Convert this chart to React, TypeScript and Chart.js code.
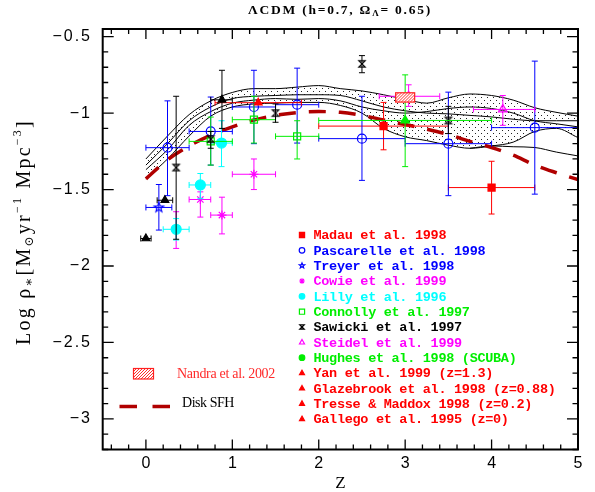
import React, { useEffect, useRef } from 'react';
import { Chart, registerables } from 'chart.js';

Chart.register(...registerables);

type Pt = [number, number, number | null, number | null, number | null, number | null];

// ---- model curves on a common redshift grid ----
const Z_GRID = [0, 0.25, 0.5, 0.75, 1, 1.25, 1.5, 1.75, 2, 2.25, 2.5, 2.75, 3, 3.25, 3.5, 3.75, 4, 4.25, 4.5, 4.75, 5];
const BAND1_UPPER = [-1.30, -1.15, -1.01, -0.92, -0.865, -0.84, -0.84, -0.83, -0.82, -0.84, -0.855, -0.88, -0.91, -0.935, -0.90, -0.875, -0.885, -0.915, -0.965, -0.995, -1.02];
const BAND1_LOWER = [-1.34, -1.20, -1.05, -0.96, -0.905, -0.89, -0.885, -0.88, -0.88, -0.885, -0.92, -0.96, -0.985, -1.0, -1.005, -1.015, -1.025, -1.04, -1.05, -1.05, -1.05];
const BAND2_UPPER = [-1.37, -1.24, -1.08, -0.99, -0.935, -0.915, -0.905, -0.91, -0.905, -0.92, -0.96, -0.985, -1.0, -0.99, -0.97, -0.96, -0.97, -1.0, -1.05, -1.07, -1.09];
const BAND2_LOWER = [-1.43, -1.30, -1.15, -1.02, -0.96, -0.94, -0.935, -0.93, -0.93, -0.95, -1.0, -1.10, -1.155, -1.18, -1.21, -1.23, -1.215, -1.19, -1.12, -1.10, -1.16];
const LOW_Z = [3.75, 4, 4.25, 4.5, 4.75, 5];
const LOW_CURVE = [-1.23, -1.215, -1.22, -1.225, -1.255, -1.28];
const DISK_SFH = [-1.43, -1.305, -1.215, -1.145, -1.09, -1.045, -1.015, -0.997, -0.99, -0.995, -1.015, -1.045, -1.075, -1.105, -1.14, -1.185, -1.225, -1.275, -1.34, -1.39, -1.435];

// ---- observations: [z, logSFRD, zLow, zHigh, logLow, logHigh] ----
const MADAU: Pt[] = [[2.75, -1.085, 2.0, 3.5, -1.24, -0.93], [4.0, -1.487, 3.5, 4.5, -1.66, -1.315]];
const PASCARELLE: Pt[] = [
  [0.25, -1.226, 0, 0.5, -1.54, -0.92],
  [0.75, -1.12, 0.5, 1.0, -1.34, -0.895],
  [1.25, -0.96, 1.0, 1.5, -1.2, -0.72],
  [1.75, -0.945, 1.5, 2.0, -1.196, -0.706],
  [2.5, -1.167, 2.0, 3.0, -1.44, -0.89],
  [3.5, -1.2, 3.0, 4.0, -1.54, -0.863],
  [4.5, -1.095, 4.0, 5.0, -1.53, -0.66],
];
const TREYER: Pt[] = [[0.15, -1.617, 0, 0.3, -1.765, -1.467]];
const COWIE: Pt[] = [
  [0.35, -1.76, null, null, -1.885, -1.645],
  [0.63, -1.565, 0.5, 0.75, -1.68, -1.515],
  [0.88, -1.667, 0.75, 1.0, -1.79, -1.55],
  [1.25, -1.4, 1.0, 1.5, -1.5, -1.3],
];
const LILLY: Pt[] = [
  [0.35, -1.76, 0.2, 0.5, -1.83, -1.69],
  [0.63, -1.47, 0.5, 0.75, -1.56, -1.395],
  [0.875, -1.196, 0.75, 1.0, -1.35, -1.05],
];
const CONNOLLY: Pt[] = [
  [0.75, -1.185, 0.5, 1.0, -1.34, -1.026],
  [1.25, -1.043, 1.0, 1.5, -1.196, -0.89],
  [1.75, -1.152, 1.5, 2.0, -1.3, -1.05],
];
const SAWICKI: Pt[] = [
  [0.35, -1.356, null, null, -1.825, -0.89],
  [0.75, -1.17, null, null, -1.23, -1.12],
  [1.5, -1.0, null, null, -1.06, -0.94],
  [2.5, -0.678, null, null, -0.736, -0.624],
  [3.5, -1.048, null, null, -1.134, -0.956],
];
const STEIDEL: Pt[] = [[3.04, -0.89, 2.7, 3.4, -0.956, -0.815], [4.13, -0.976, 3.79, 4.5, -1.08, -0.885]];
const HUGHES: Pt[] = [[3.0, -1.048, 2.0, 4.0, -1.35, -0.75]];
const YAN: Pt[] = [[1.3, -0.932, 0.8, 1.8, null, null]];
const GLAZEBROOK: Pt[] = [[0.88, -0.913, 0.75, 1.0, -1.1, -0.72]];
const TRESSE: Pt[] = [[0.22, -1.57, 0.13, 0.31, null, null]];
const GALLEGO: Pt[] = [[0, -1.82, -0.06, 0.06, null, null]];
// Nandra et al. 2002 box: [zLow, zHigh, logLow, logHigh]
const NANDRA = [2.89, 3.11, -0.928, -0.867];

const X_TICKS = [0, 1, 2, 3, 4, 5];
const Y_TICKS = [-0.5, -1, -1.5, -2, -2.5, -3];

const RED = '#ff0000', BLUE = '#0000ff', MAG = '#ff00ff', CYAN = '#00ffff', GREEN = '#00ee00', BLACK = '#000000';
const DISK_COLOR = '#b00000';

const SERIES = [
  { label: 'Madau et al. 1998', data: MADAU, color: RED, lcolor: RED, style: 'rect', r: 5, filled: true, lstyle: 'rect' },
  { label: 'Pascarelle et al. 1998', data: PASCARELLE, color: BLUE, lcolor: BLUE, style: 'circle', r: 4.5, filled: false, lstyle: 'circle' },
  { label: 'Treyer et al. 1998', data: TREYER, color: BLUE, lcolor: BLUE, style: 'star5', r: 5, filled: false, lstyle: 'star5' },
  { label: 'Cowie et al. 1999', data: COWIE, color: MAG, lcolor: MAG, style: 'star', r: 4.5, filled: false, lstyle: 'star' },
  { label: 'Lilly et al. 1996', data: LILLY, color: CYAN, lcolor: CYAN, style: 'circle', r: 5, filled: true, lstyle: 'circle' },
  { label: 'Connolly et al. 1997', data: CONNOLLY, color: GREEN, lcolor: GREEN, style: 'rect', r: 5, filled: false, lstyle: 'rect' },
  { label: 'Sawicki et al. 1997', data: SAWICKI, color: BLACK, lcolor: BLACK, style: 'hourglass', r: 4, filled: false, lstyle: 'hourglass' },
  { label: 'Steidel et al. 1999', data: STEIDEL, color: MAG, lcolor: MAG, style: 'triangle', r: 5, filled: false, lstyle: 'triangle' },
  { label: 'Hughes et al. 1998 (SCUBA)', data: HUGHES, color: GREEN, lcolor: GREEN, style: 'triangle', r: 5, filled: true, lstyle: 'circle' },
  { label: 'Yan et al. 1999 (z=1.3)', data: YAN, color: RED, lcolor: RED, style: 'triangle', r: 4.5, filled: true, lstyle: 'triangle' },
  { label: 'Glazebrook et al. 1998 (z=0.88)', data: GLAZEBROOK, color: BLACK, lcolor: RED, style: 'triangle', r: 4.5, filled: true, lstyle: 'triangle' },
  { label: 'Tresse & Maddox 1998 (z=0.2)', data: TRESSE, color: BLACK, lcolor: RED, style: 'triangle', r: 4.5, filled: true, lstyle: 'triangle' },
  { label: 'Gallego et al. 1995 (z=0)', data: GALLEGO, color: BLACK, lcolor: RED, style: 'triangle', r: 4.5, filled: true, lstyle: 'triangle' },
];

function drawMarker(g: CanvasRenderingContext2D, style: string, x: number, y: number, r: number, color: string, filled: boolean) {
  g.save();
  g.strokeStyle = color;
  g.fillStyle = color;
  g.lineWidth = 1.2;
  g.beginPath();
  if (style === 'rect') {
    const s = r * 0.72;
    g.rect(x - s, y - s, 2 * s, 2 * s);
  } else if (style === 'circle') {
    g.arc(x, y, r, 0, Math.PI * 2);
  } else if (style === 'triangle') {
    g.moveTo(x, y - r);
    g.lineTo(x + r * 0.9, y + r * 0.6);
    g.lineTo(x - r * 0.9, y + r * 0.6);
    g.closePath();
  } else if (style === 'star') {
    for (let i = 0; i < 4; i++) {
      const a = (i * Math.PI) / 4;
      g.moveTo(x - Math.cos(a) * r, y - Math.sin(a) * r);
      g.lineTo(x + Math.cos(a) * r, y + Math.sin(a) * r);
    }
  } else if (style === 'star5') {
    for (let i = 0; i < 10; i++) {
      const a = -Math.PI / 2 + (i * Math.PI) / 5;
      const rr = i % 2 ? r * 0.42 : r;
      const px = x + Math.cos(a) * rr, py = y + Math.sin(a) * rr;
      if (i === 0) g.moveTo(px, py); else g.lineTo(px, py);
    }
    g.closePath();
  } else if (style === 'hourglass') {
    const s = r * 0.8;
    g.moveTo(x - s, y - s);
    g.lineTo(x + s, y - s);
    g.lineTo(x - s, y + s);
    g.lineTo(x + s, y + s);
    g.closePath();
  }
  if (filled) g.fill();
  g.stroke();
  g.restore();
}

function markerCanvas(style: string, r: number, color: string, filled: boolean) {
  const size = Math.ceil(r * 2 + 4);
  const c = document.createElement('canvas');
  c.width = size;
  c.height = size;
  const g = c.getContext('2d')!;
  drawMarker(g, style, size / 2, size / 2, r, color, filled);
  return c;
}

function dotPattern(g: CanvasRenderingContext2D) {
  const c = document.createElement('canvas');
  c.width = 6;
  c.height = 6;
  const p = c.getContext('2d')!;
  p.fillStyle = '#222';
  p.fillRect(1, 1, 1, 1);
  p.fillRect(4, 4, 1, 1);
  return g.createPattern(c, 'repeat')!;
}

type Seg = { t: string; size: number; dy: number };

function drawRich(g: CanvasRenderingContext2D, segs: Seg[], font: (s: number) => string, x: number, y: number, targetW: number | null, align: 'center' | 'left') {
  g.letterSpacing = '0px';
  let w0 = 0, n = 0;
  const ws = segs.map((s) => {
    g.font = font(s.size);
    const w = g.measureText(s.t).width;
    w0 += w;
    n += [...s.t].length;
    return w;
  });
  const sp = targetW != null ? (targetW - w0) / n : 0;
  const total = w0 + sp * n;
  let cx = align === 'center' ? x - total / 2 : x;
  g.textAlign = 'left';
  segs.forEach((s, i) => {
    g.font = font(s.size);
    g.letterSpacing = sp + 'px';
    g.fillText(s.t, cx, y + s.dy);
    cx += ws[i] + sp * [...s.t].length;
  });
  g.letterSpacing = '0px';
}

function hatchBox(g: CanvasRenderingContext2D, x0: number, y0: number, x1: number, y1: number) {
  const l = Math.min(x0, x1), r = Math.max(x0, x1), t = Math.min(y0, y1), b = Math.max(y0, y1);
  g.save();
  g.fillStyle = '#ffffff';
  g.fillRect(l, t, r - l, b - t);
  g.beginPath();
  g.rect(l, t, r - l, b - t);
  g.clip();
  g.strokeStyle = '#ff3030';
  g.lineWidth = 1;
  g.beginPath();
  for (let k = l - (b - t); k < r; k += 3) {
    g.moveTo(k, b);
    g.lineTo(k + (b - t), t);
  }
  g.stroke();
  g.restore();
  g.save();
  g.strokeStyle = '#ff2020';
  g.lineWidth = 1.2;
  g.strokeRect(l, t, r - l, b - t);
  g.restore();
}

const errorBarPlugin = {
  id: 'errorBars',
  beforeDatasetDraw(chart: any, args: any) {
    const ds = chart.data.datasets[args.index];
    if (!ds.errColor) return;
    const { ctx } = chart;
    const xs = chart.scales.x, ys = chart.scales.y;
    const cap = 3;
    ctx.save();
    ctx.strokeStyle = ds.errColor;
    ctx.lineWidth = 1;
    ctx.beginPath();
    for (const p of ds.data) {
      const px = xs.getPixelForValue(p.x), py = ys.getPixelForValue(p.y);
      if (p.xl != null && p.xh != null) {
        const a = xs.getPixelForValue(p.xl), b = xs.getPixelForValue(p.xh);
        ctx.moveTo(a, py); ctx.lineTo(b, py);
        ctx.moveTo(a, py - cap); ctx.lineTo(a, py + cap);
        ctx.moveTo(b, py - cap); ctx.lineTo(b, py + cap);
      }
      if (p.yl != null && p.yh != null) {
        const a = ys.getPixelForValue(p.yl), b = ys.getPixelForValue(p.yh);
        ctx.moveTo(px, a); ctx.lineTo(px, b);
        ctx.moveTo(px - cap, a); ctx.lineTo(px + cap, a);
        ctx.moveTo(px - cap, b); ctx.lineTo(px + cap, b);
      }
    }
    ctx.stroke();
    ctx.restore();
  },
};

const decorPlugin = {
  id: 'decor',
  afterDatasetsDraw(chart: any) {
    const { ctx } = chart;
    const xs = chart.scales.x, ys = chart.scales.y;
    hatchBox(ctx, xs.getPixelForValue(NANDRA[0]), ys.getPixelForValue(NANDRA[2]), xs.getPixelForValue(NANDRA[1]), ys.getPixelForValue(NANDRA[3]));
  },
  afterDraw(chart: any) {
    const { ctx, chartArea } = chart;
    const { left, right, top, bottom } = chartArea;
    const xs = chart.scales.x, ys = chart.scales.y;
    ctx.save();
    // frame
    ctx.strokeStyle = '#000';
    ctx.lineWidth = 2;
    ctx.strokeRect(left, top, right - left, bottom - top);
    // ticks
    ctx.lineWidth = 1.3;
    ctx.beginPath();
    for (let i = -2; i <= 25; i++) {
      const z = i * 0.2;
      if (z < -0.5 || z > 5.0001) continue;
      const major = Math.abs(z - Math.round(z)) < 1e-6;
      const L = major ? 10 : 5;
      const px = xs.getPixelForValue(z);
      ctx.moveTo(px, bottom); ctx.lineTo(px, bottom - L);
      ctx.moveTo(px, top); ctx.lineTo(px, top + L);
    }
    for (let i = 5; i <= 32; i++) {
      const v = -i * 0.1;
      const major = Math.abs(v * 2 - Math.round(v * 2)) < 1e-6;
      const L = major ? 11 : 5.5;
      const py = ys.getPixelForValue(v);
      ctx.moveTo(left, py); ctx.lineTo(left + L, py);
      ctx.moveTo(right, py); ctx.lineTo(right - L, py);
    }
    ctx.stroke();

    // tick labels
    ctx.fillStyle = '#000';
    ctx.textBaseline = 'middle';
    ctx.font = '16px "Liberation Sans"';
    ctx.letterSpacing = '2px';
    ctx.textAlign = 'right';
    for (const v of Y_TICKS) {
      const s = (v < 0 ? '\u2212' : '') + Math.abs(v);
      ctx.fillText(s, 92, ys.getPixelForValue(v));
    }
    ctx.letterSpacing = '0px';
    ctx.textAlign = 'center';
    for (const z of X_TICKS) {
      ctx.fillText(String(z), xs.getPixelForValue(z), 464);
    }

    // axis titles
    ctx.font = '17px "Liberation Serif"';
    ctx.fillText('Z', (left + right) / 2, 484);

    const serif = (s: number) => `${s}px "Liberation Serif", "DejaVu Serif"`;
    ctx.save();
    ctx.translate(25, 232);
    ctx.rotate(-Math.PI / 2);
    ctx.textBaseline = 'middle';
    drawRich(ctx, [
      { t: 'Log \u03c1', size: 20, dy: 0 },
      { t: '\u2217', size: 13, dy: 5 },
      { t: '[M', size: 20, dy: 0 },
      { t: '\u2299', size: 12, dy: 5 },
      { t: 'yr', size: 20, dy: 0 },
      { t: '\u22121', size: 12, dy: -7 },
      { t: ' Mpc', size: 20, dy: 0 },
      { t: '\u22123', size: 12, dy: -7 },
      { t: ']', size: 20, dy: 0 },
    ], serif, 0, 0, 226, 'center');
    ctx.restore();

    // title
    ctx.textBaseline = 'middle';
    const bserif = (s: number) => `bold ${s}px "Liberation Serif", "DejaVu Serif"`;
    drawRich(ctx, [
      { t: '\u039bCDM (h=0.7, \u03a9', size: 13.5, dy: 0 },
      { t: '\u039b', size: 9, dy: 3 },
      { t: '= 0.65)', size: 13.5, dy: 0 },
    ], bserif, 340, 11, 184, 'center');

    // legend of observations
    const lx = 302, tx = 313.5, ly0 = 235, ldy = 15.33;
    const lfont = 'bold 13.5px "Liberation Mono"';
    ctx.font = lfont;
    ctx.letterSpacing = '0px';
    const refW = ctx.measureText('Glazebrook et al. 1998 (z=0.88)').width;
    const sp = (242 - refW) / 31;
    SERIES.forEach((s, i) => {
      const y = ly0 + i * ldy;
      drawMarker(ctx, s.lstyle, lx, y, s.lstyle === 'rect' ? 3.6 : 2.8, s.lcolor, s.filled && s.lstyle !== 'star');
      ctx.fillStyle = s.lcolor;
      ctx.font = lfont;
      ctx.letterSpacing = sp + 'px';
      ctx.textAlign = 'left';
      ctx.textBaseline = 'middle';
      ctx.fillText(s.label, tx, y + 1);
    });
    ctx.letterSpacing = '0px';

    // Nandra + Disk SFH legend
    hatchBox(ctx, 133.5, 368.5, 153.5, 379);
    ctx.fillStyle = '#ff2a2a';
    ctx.textBaseline = 'middle';
    drawRich(ctx, [{ t: 'Nandra et al. 2002', size: 14, dy: 0 }], serif, 177, 374, 98, 'left');
    ctx.strokeStyle = DISK_COLOR;
    ctx.lineWidth = 3.5;
    ctx.beginPath();
    ctx.moveTo(119.5, 406.5); ctx.lineTo(137, 406.5);
    ctx.moveTo(152.5, 406.5); ctx.lineTo(170, 406.5);
    ctx.stroke();
    ctx.fillStyle = '#000';
    drawRich(ctx, [{ t: 'Disk SFH', size: 14, dy: 0 }], serif, 182, 403, 52, 'left');
    ctx.restore();
  },
};

export default function App() {
  const ref = useRef<HTMLCanvasElement | null>(null);
  useEffect(() => {
    document.body.style.margin = '0';
    const canvas = ref.current!;
    const g = canvas.getContext('2d')!;
    const pat = dotPattern(g);
    const zip = (zs: number[], vs: number[]) => zs.map((z, i) => ({ x: z, y: vs[i] }));
    const curve = (data: any[], fill: any) => ({
      type: 'line',
      data,
      borderColor: '#000',
      borderWidth: 1,
      pointRadius: 0,
      fill,
      backgroundColor: pat,
      cubicInterpolationMode: 'monotone',
    });
    const datasets: any[] = [
      curve(zip(Z_GRID, BAND1_UPPER), '+1'),
      curve(zip(Z_GRID, BAND1_LOWER), false),
      curve(zip(Z_GRID, BAND2_UPPER), '+1'),
      curve(zip(Z_GRID, BAND2_LOWER), false),
      curve(zip(LOW_Z, LOW_CURVE), false),
      {
        type: 'line',
        data: zip(Z_GRID, DISK_SFH),
        borderColor: DISK_COLOR,
        borderWidth: 3.5,
        borderDash: [17, 13],
        pointRadius: 0,
        fill: false,
        cubicInterpolationMode: 'monotone',
      },
    ];
    SERIES.forEach((s) => {
      const custom = s.style === 'star5' || s.style === 'hourglass';
      datasets.push({
        type: 'line',
        label: s.label,
        showLine: false,
        data: s.data.map(([x, y, xl, xh, yl, yh]) => ({ x, y, xl, xh, yl, yh })),
        pointStyle: custom ? markerCanvas(s.style, s.r, s.color, s.filled) : s.style,
        pointRadius: s.r,
        pointBorderWidth: 1.2,
        pointBorderColor: s.color,
        pointBackgroundColor: s.filled ? s.color : 'rgba(0,0,0,0)',
        errColor: s.color,
      });
    });
    datasets.forEach((d, i) => (d.order = 100 - i));

    const chart = new Chart(canvas, {
      type: 'line',
      data: { datasets },
      options: {
        responsive: false,
        animation: false,
        devicePixelRatio: 1,
        layout: { padding: { top: 29, right: 17, left: 0, bottom: 0 } },
        plugins: { legend: { display: false }, title: { display: false }, tooltip: { enabled: false } },
        scales: {
          x: {
            type: 'linear', min: -0.5, max: 5,
            grid: { display: false }, border: { display: false }, ticks: { display: false },
            afterFit: (s: any) => { s.height = 42.5; },
          },
          y: {
            type: 'linear', min: -3.2, max: -0.45,
            grid: { display: false }, border: { display: false }, ticks: { display: false },
            afterFit: (s: any) => { s.width = 102.7; },
          },
        },
      },
      plugins: [errorBarPlugin, decorPlugin],
    } as any);
    return () => chart.destroy();
  }, []);
  return <canvas ref={ref} width={595} height={492} style={{ display: 'block' }} />;
}
